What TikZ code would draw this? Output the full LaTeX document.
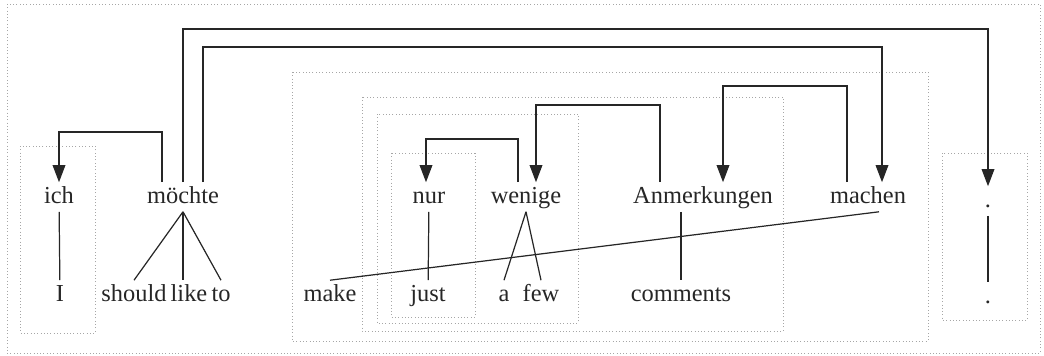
\documentclass[tikz,border=0pt]{standalone}
\usepackage{fontspec}
\setmainfont{Liberation Serif}
\usetikzlibrary{arrows.meta,calc}

\begin{document}
\begin{tikzpicture}[x=0.0144cm,y=0.0144cm]
			\tikzset{every node/.style={inner sep=1.5pt, text height=1.55ex, text depth=.35ex, text=black!85},
				box/.style={gray!70, densely dotted, line width=0.35pt},
				link/.style={black!85, line width=0.5pt},
				arr/.style={link, -{Triangle[length=7pt,width=5.2pt]}}}
			\useasboundingbox (0,0) rectangle (1044,-355);
			% boxes
			\draw [box] (7,-4) rectangle (1040,-353);
			\draw [box] (20,-146) rectangle (95,-333);
			\draw [box] (292,-72) rectangle (928,-341);
			\draw [box] (362,-97) rectangle (783,-331);
			\draw [box] (377,-114) rectangle (578,-323);
			\draw [box] (391,-153) rectangle (475,-317);
			\draw [box] (942,-153) rectangle (1027,-320);
			% words
			\node (ich) at (59,-197) {ich};
			\node (I) at (60,-295) {I};
			\node (moechte) at (183,-197) {möchte};
			\node (should) at (134,-295) {should};
			\node (like) at (189,-295) {like};
			\node (to) at (221,-295) {to};
			\node (make) at (330,-295) {make};
			\node (nur) at (429,-197) {nur};
			\node (just) at (428,-295) {just};
			\node (wenige) at (526,-197) {wenige};
			\node (a) at (504,-295) {a};
			\node (few) at (541,-295) {few};
			\node (anm) at (703,-197) {Anmerkungen};
			\node (comments) at (681,-295) {comments};
			\node (machen) at (868,-197) {machen};
			\node (dotde) at (988,-201) {.};
			\node (doten) at (988,-297) {.};
			% levels of the arcs
			\coordinate (lvlA) at (0,-29);
			\coordinate (lvlB) at (0,-47);
			\coordinate (lvlC) at (0,-86);
			\coordinate (lvlD) at (0,-105);
			\coordinate (lvlE) at (0,-132);
			\coordinate (lvlF) at (0,-139);
			% ends of the arcs
			\coordinate (moeL) at ($(moechte.north)+(-21,0)$);
			\coordinate (moeR) at ($(moechte.north)+(20,0)$);
			\coordinate (macL) at ($(machen.north)+(-21,0)$);
			\coordinate (macR) at ($(machen.north)+(14,0)$);
			\coordinate (anmL) at ($(anm.north)+(-43,0)$);
			\coordinate (anmR) at ($(anm.north)+(20,0)$);
			\coordinate (wenL) at ($(wenige.north)+(-8,0)$);
			\coordinate (wenR) at ($(wenige.north)+(10,0)$);
			% alignments
			\draw [link] (ich) -- (I);
			\draw [link] (moechte.south) -- (should.north);
			\draw [link] (moechte.south) -- ($(like.north)+(-6,0)$);
			\draw [link] (moechte.south) -- (to.north);
			\draw [link] (nur) -- (just);
			\draw [link] (wenige.south) -- (a.north);
			\draw [link] (wenige.south) -- (few.north);
			\draw [link] ($(anm.south)+(-22,0)$) -- (comments);
			\draw [link] ($(machen.south)+(11,0)$) -- (make.north);
			\draw [link] (dotde) -- (doten);
			% dependencies
			\draw [arr] (moeL) -- (moeL |- lvlE) -| (ich.north);
			\draw [arr] (moechte.north) -- (moechte.north |- lvlA) -| (dotde.north);
			\draw [arr] (moeR) -- (moeR |- lvlB) -| (macR);
			\draw [arr] (macL) -- (macL |- lvlC) -| (anmR);
			\draw [arr] (anmL) -- (anmL |- lvlD) -| (wenR);
			\draw [arr] (wenL) -- (wenL |- lvlF) -| ($(nur.north)+(-3,0)$);
		\end{tikzpicture}
\end{document}
